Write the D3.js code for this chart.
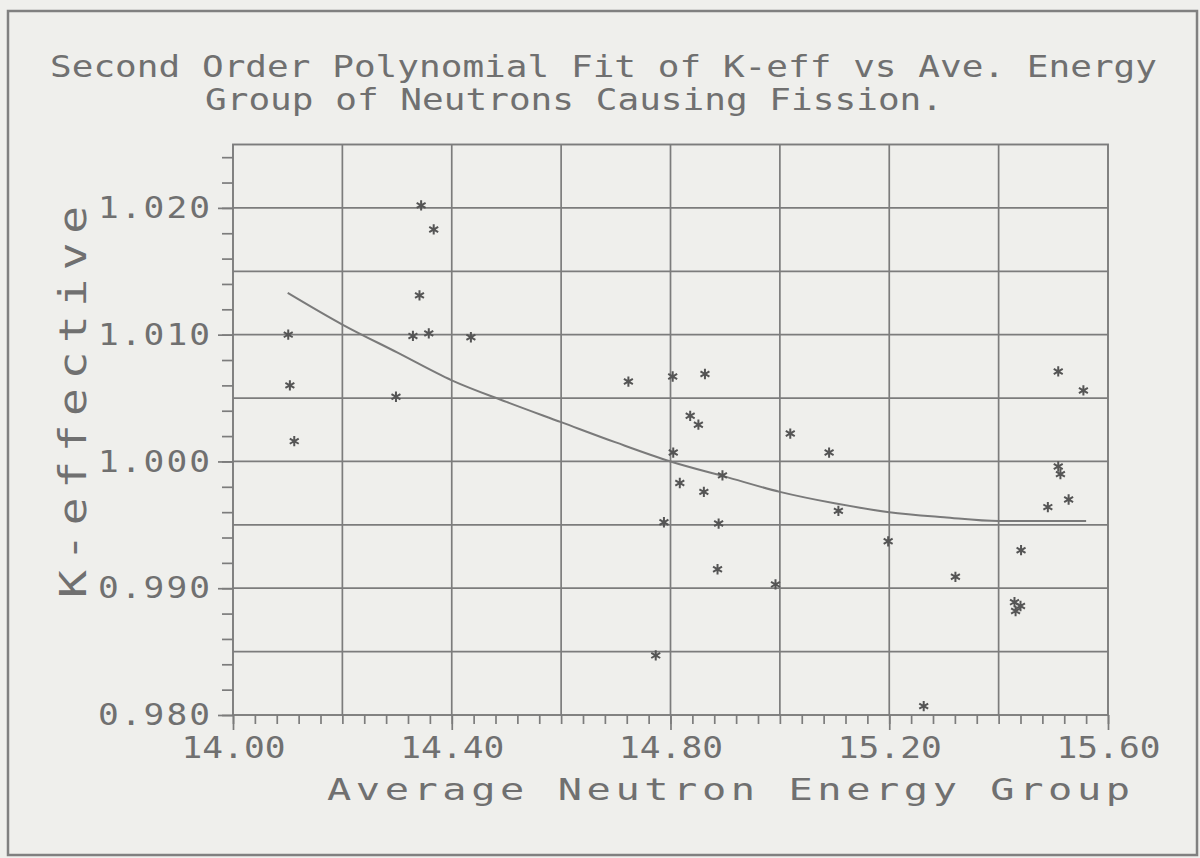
<!DOCTYPE html>
<html>
<head>
<meta charset="utf-8">
<script src="https://cdn.jsdelivr.net/npm/d3@7"></script>
<style>
  html, body { margin: 0; padding: 0; background: #efefec; }
  svg { display: block; }
  text { font-family: "DejaVu Sans Mono", monospace; fill: #707070; }
</style>
</head>
<body>
<svg id="chart" width="1200" height="858"></svg>
<script>
// measured points: average energy group vs k-effective
const energy = [14.101, 14.104, 14.112, 14.298, 14.341, 14.344, 14.367, 14.329, 14.358, 14.435,
  14.723, 14.804, 14.863, 14.836, 14.851, 14.805, 14.817, 14.861, 14.895, 14.788,
  14.888, 14.886, 14.773, 14.992, 15.019, 15.090, 15.107, 15.198, 15.263, 15.321,
  15.441, 15.429, 15.440, 15.431, 15.490, 15.509, 15.555, 15.509, 15.513, 15.528]
const keff = [1.0100, 1.0060, 1.0016, 1.0051, 1.0131, 1.0202, 1.0183, 1.0099, 1.0101, 1.0098,
  1.0063, 1.0067, 1.0069, 1.0036, 1.0029, 1.0007, 0.9983, 0.9976, 0.9989, 0.9952,
  0.9951, 0.9915, 0.9847, 0.9903, 1.0022, 1.0007, 0.9961, 0.9937, 0.9807, 0.9909,
  0.9930, 0.9889, 0.9886, 0.9882, 0.9964, 1.0071, 1.0056, 0.9996, 0.9990, 0.9970]

// second order fit curve
const fitX = [14.10, 14.20, 14.30, 14.40, 14.50, 14.60, 14.70, 14.80, 14.90, 15.00, 15.10, 15.20, 15.30, 15.40, 15.50, 15.56]
const fitY = [1.0133, 1.0108, 1.0086, 1.0064, 1.0047, 1.0031, 1.0015, 1.0000, 0.9988, 0.9976, 0.9967, 0.9960, 0.9956, 0.9953, 0.9953, 0.9953]

const xLabelTicks = [14.0, 14.4, 14.8, 15.2, 15.6]
const yLabelTicks = [0.980, 0.990, 1.000, 1.010, 1.020]
const xGrid = [14.2, 14.4, 14.6, 14.8, 15.0, 15.2, 15.4]
const yGrid = [0.985, 0.990, 0.995, 1.000, 1.005, 1.010, 1.015, 1.020]

const titleLines = ["Second Order Polynomial Fit of K-eff vs Ave. Energy",
  "Group of Neutrons Causing Fission."]
const xTitle = "Average Neutron Energy Group"
const yTitle = "K-effective"

const svg = d3.select("#chart")
const lineCol = "#7c7c7c"

// outer border of the figure
svg.append("rect").attr("x", 8).attr("y", 11).attr("width", 1189).attr("height", 844)
  .attr("fill", "none").attr("stroke", "#808080").attr("stroke-width", 2.5)

const x = d3.scaleLinear().domain([14.0, 15.6]).range([233, 1108])
const y = d3.scaleLinear().domain([0.980, 1.025]).range([715, 144.5])

// grid
const grid = svg.append("g").attr("stroke", lineCol).attr("stroke-width", 1.7)
grid.selectAll(".gx").data(xGrid).join("line")
  .attr("x1", d => x(d)).attr("x2", d => x(d)).attr("y1", y(1.025)).attr("y2", y(0.980))
grid.selectAll(".gy").data(yGrid).join("line")
  .attr("y1", d => y(d)).attr("y2", d => y(d)).attr("x1", x(14.0)).attr("x2", x(15.6))
svg.append("rect").attr("x", x(14.0)).attr("y", y(1.025))
  .attr("width", x(15.6) - x(14.0)).attr("height", y(0.980) - y(1.025))
  .attr("fill", "none").attr("stroke", lineCol).attr("stroke-width", 1.9)

// minor ticks
const xMinor = d3.range(0, 41).map(i => 14.0 + i * 0.04)
const yMinor = d3.range(0, 23).map(i => 0.980 + i * 0.002)

const styleAxis = g => {
  g.select(".domain").remove()
  g.selectAll(".tick line").attr("stroke", lineCol).attr("stroke-width", 1.7)
}

svg.append("g").attr("transform", `translate(0,${y(0.980)})`)
  .call(d3.axisBottom(x).tickValues(xMinor).tickSize(9).tickFormat(""))
  .call(styleAxis)
svg.append("g").attr("transform", `translate(${x(14.0)},0)`)
  .call(d3.axisLeft(y).tickValues(yMinor).tickSize(11).tickFormat(""))
  .call(styleAxis)

// major ticks + labels, glyphs stretched sideways like the plotter font
const sx = 1.15
const xAx = svg.append("g").attr("transform", `translate(0,${y(0.980)})`)
  .call(d3.axisBottom(x).tickValues(xLabelTicks).tickSize(15).tickPadding(7).tickFormat(d3.format(".2f")))
  .call(styleAxis)
xAx.selectAll("text").attr("font-size", 30).attr("fill", "#707070")
  .attr("font-family", "DejaVu Sans Mono, monospace")
  .attr("transform", `scale(${sx},1)`)
  .attr("textLength", 104 / sx).attr("lengthAdjust", "spacing")

const yAx = svg.append("g").attr("transform", `translate(${x(14.0)},0)`)
  .call(d3.axisLeft(y).tickValues(yLabelTicks).tickSize(15).tickPadding(8).tickFormat(d3.format(".3f")))
  .call(styleAxis)
yAx.selectAll("text").attr("font-size", 30).attr("fill", "#707070")
  .attr("font-family", "DejaVu Sans Mono, monospace")
  .attr("x", -23 / sx)
  .attr("transform", `scale(${sx},1)`)
  .attr("textLength", 112 / sx).attr("lengthAdjust", "spacing")

// fit curve
const fitPts = fitX.map((v, i) => [v, fitY[i]])
svg.append("path").datum(fitPts)
  .attr("d", d3.line().x(d => x(d[0])).y(d => y(d[1])).curve(d3.curveMonotoneX))
  .attr("fill", "none").attr("stroke", "#7a7a7a").attr("stroke-width", 2)

// data points as asterisks
const star = d3.symbol().type(d3.symbolAsterisk).size(75)
svg.append("g").selectAll("path").data(energy).join("path")
  .attr("transform", (d, i) => `translate(${x(d)},${y(keff[i])})`)
  .attr("d", star)
  .attr("fill", "none").attr("stroke", "#555").attr("stroke-width", 2)

// stretched text helper
function label(str, x0, y0, size, s, len) {
  return svg.append("text").attr("transform", `translate(${x0},${y0}) scale(${s},1)`)
    .attr("font-size", size).attr("textLength", len / s).attr("lengthAdjust", "spacing").text(str)
}

label(titleLines[0], 50, 77, 30, 1.2, 1107)
label(titleLines[1], 205, 110, 30, 1.2, 738)
label(xTitle, 327, 800, 31, 1.3, 803)

svg.append("text").attr("transform", "translate(86,402) rotate(-90) scale(1.25,1)")
  .attr("text-anchor", "middle").attr("font-size", 37)
  .attr("textLength", 392 / 1.25).attr("lengthAdjust", "spacing").text(yTitle)
</script>
</body>
</html>
